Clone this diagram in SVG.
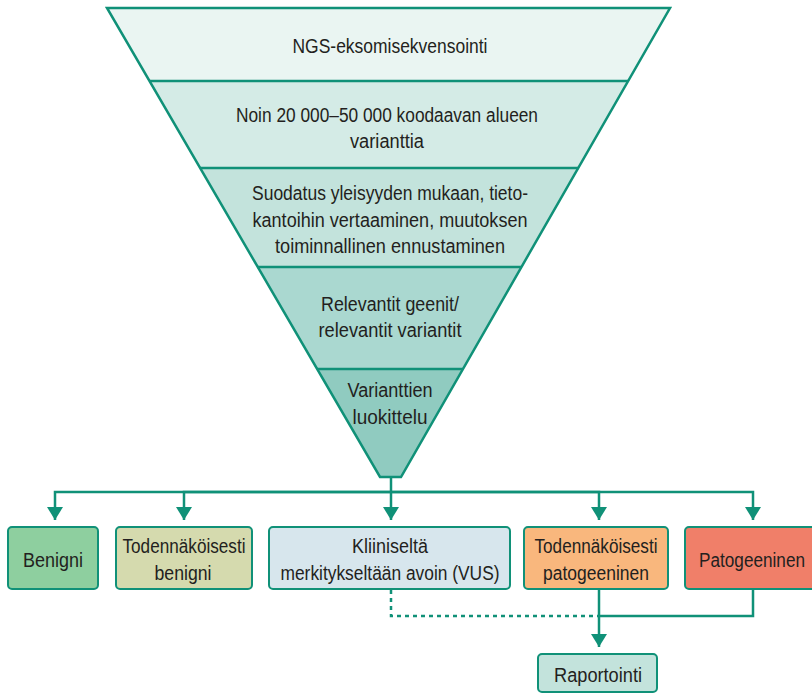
<svg xmlns="http://www.w3.org/2000/svg" width="812" height="694" viewBox="0 0 812 694">
<defs>
<style>
text{font-family:"Liberation Sans",Arial,sans-serif;font-size:20px;fill:#231f20;text-anchor:middle}
.ln{fill:none;stroke:#109178;stroke-width:2.5}
.dot{fill:none;stroke:#109178;stroke-width:2.5;stroke-dasharray:4 4}
.box{stroke:#109178;stroke-width:2}
</style>
<marker id="ah" markerUnits="userSpaceOnUse" markerWidth="14" markerHeight="16" refX="13" refY="8" orient="auto" viewBox="0 0 14 16">
<path d="M0,0 L13,8 L0,16 z" fill="#109178"/>
</marker>
</defs>
<rect width="812" height="694" fill="#ffffff"/>
<g id="funnel">
<polygon points="107,8 670,8 628.1,81 149.5,81" fill="#eaf5f2"/>
<polygon points="149.5,81 628.1,81 578.2,168 200.1,168" fill="#d4ebe6"/>
<polygon points="200.1,168 578.2,168 521.4,267 257.8,267" fill="#c3e3dc"/>
<polygon points="257.8,267 521.4,267 462.9,369 317.1,369" fill="#aad8d0"/>
<polygon points="317.1,369 462.9,369 401,477 380,477" fill="#90cbc0"/>
<polygon points="107,8 670,8 401,477 380,477" class="ln"/>
<path d="M149.5,81H628.1M200.1,168H578.2M257.8,267H521.4M317.1,369H462.9" class="ln"/>
</g>
<g id="step1"><text x="390" y="53" textLength="195" lengthAdjust="spacingAndGlyphs">NGS-eksomisekvensointi</text></g>
<g id="step2"><text x="387" y="122" textLength="302" lengthAdjust="spacingAndGlyphs">Noin 20 000–50 000 koodaavan alueen</text><text x="387" y="148" textLength="74" lengthAdjust="spacingAndGlyphs">varianttia</text></g>
<g id="step3"><text x="390" y="200" textLength="276" lengthAdjust="spacingAndGlyphs">Suodatus yleisyyden mukaan, tieto-</text><text x="390" y="227" textLength="275" lengthAdjust="spacingAndGlyphs">kantoihin vertaaminen, muutoksen</text><text x="390" y="253" textLength="230" lengthAdjust="spacingAndGlyphs">toiminnallinen ennustaminen</text></g>
<g id="step4"><text x="390" y="311" textLength="138" lengthAdjust="spacingAndGlyphs">Relevantit geenit/</text><text x="390" y="337" textLength="143" lengthAdjust="spacingAndGlyphs">relevantit variantit</text></g>
<g id="step5"><text x="390" y="397" textLength="85" lengthAdjust="spacingAndGlyphs">Varianttien</text><text x="390" y="424" textLength="75" lengthAdjust="spacingAndGlyphs">luokittelu</text></g>
<g id="connectors">
<path d="M391,477V520" class="ln" marker-end="url(#ah)"/>
<path d="M391,492H55V520" class="ln" marker-end="url(#ah)"/>
<path d="M391,492H184V520" class="ln" marker-end="url(#ah)"/>
<path d="M391,492H599V520" class="ln" marker-end="url(#ah)"/>
<path d="M391,492H753V520" class="ln" marker-end="url(#ah)"/>
<path d="M753,589V616H599" class="ln"/>
<path d="M391,590V616H599" class="dot"/>
<path d="M599,589V647" class="ln" marker-end="url(#ah)"/>
</g>
<g id="benigni"><rect x="8" y="527" width="90" height="62" rx="4" class="box" fill="#8ecf9f"/><text x="53" y="567" textLength="60" lengthAdjust="spacingAndGlyphs">Benigni</text></g>
<g id="tod-benigni"><rect x="116" y="527" width="136" height="62" rx="4" class="box" fill="#d5daae"/><text x="184" y="553" textLength="123" lengthAdjust="spacingAndGlyphs">Todennäköisesti</text><text x="183" y="580" textLength="57" lengthAdjust="spacingAndGlyphs">benigni</text></g>
<g id="vus"><rect x="269" y="527" width="241" height="62" rx="4" class="box" fill="#d7e6ed"/><text x="390" y="553" textLength="76" lengthAdjust="spacingAndGlyphs">Kliiniseltä</text><text x="390" y="580" textLength="219" lengthAdjust="spacingAndGlyphs">merkitykseltään avoin (VUS)</text></g>
<g id="tod-patogeeninen"><rect x="524" y="527" width="144" height="62" rx="4" class="box" fill="#f9b77d"/><text x="596" y="553" textLength="123" lengthAdjust="spacingAndGlyphs">Todennäköisesti</text><text x="596" y="580" textLength="106" lengthAdjust="spacingAndGlyphs">patogeeninen</text></g>
<g id="patogeeninen"><rect x="685" y="527" width="136" height="62" rx="4" class="box" fill="#f07f69"/><text x="752" y="567" textLength="106" lengthAdjust="spacingAndGlyphs">Patogeeninen</text></g>
<g id="raportointi"><rect x="538" y="654" width="119" height="38" rx="4" class="box" fill="#c3e3dc"/><text x="598" y="682" textLength="88" lengthAdjust="spacingAndGlyphs">Raportointi</text></g>
</svg>
